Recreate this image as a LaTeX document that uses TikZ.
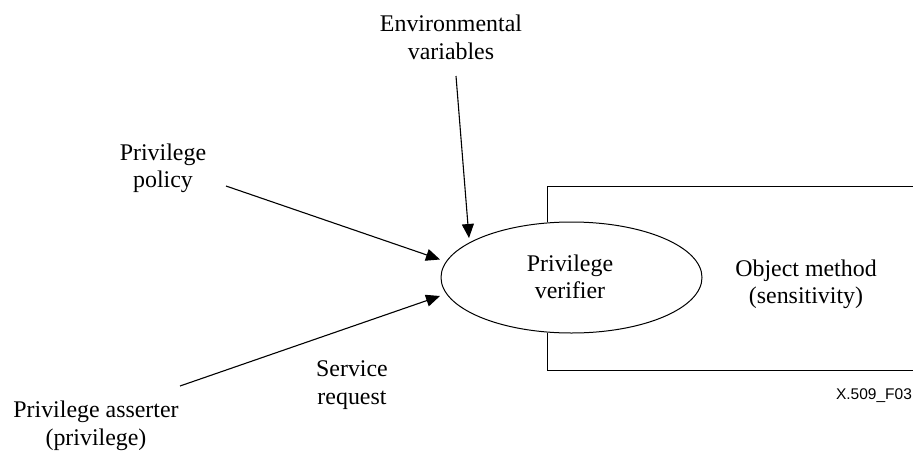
\documentclass[tikz,border=0pt]{standalone}
\usepackage{fontspec}
\setmainfont{Liberation Serif}
\newfontfamily\helv{Liberation Sans}
\usetikzlibrary{arrows.meta,shapes.geometric}
\tikzset{lbl/.style={inner sep=0pt,align=center,anchor=base,font=\fontsize{23.9}{27.2}\selectfont},
 conn/.style={draw=black,line width=1.1pt,-{Stealth[length=14pt,width=12pt,inset=0pt]}},
 edge line/.style={draw=black,line width=1pt}}
\begin{document}
\begin{tikzpicture}[x=1pt,y=-1pt]
\useasboundingbox (0,0) rectangle (913,450);
\coordinate (tl) at (913,186);
\coordinate (tm) at (547,186);
\coordinate (tb) at (547,222);
\coordinate (bl) at (913,370);
\coordinate (bm) at (547,370);
\coordinate (bt) at (547,333);
\draw[edge line] (tl) -- (tm) -- (tb);
\draw[edge line] (bl) -- (bm) -- (bt);
\node[draw=black,line width=1pt,ellipse,minimum width=261pt,minimum height=111pt,inner sep=0pt] (ver) at (571.5,277.5) {};
\node[lbl] (vert) at (570,298.5) {Privilege\\verifier};
\node[lbl] (obj) at (806,303.5) {Object method\\(sensitivity)};
\node[lbl] (env) at (451,59) {Environmental\\variables};
\node[lbl] (pol) at (163,187.5) {Privilege\\policy};
\node[lbl] (ass) at (96,445) {Privilege asserter\\(privilege)};
\node[lbl] (srv) at (352,404) {Service\\request};
\node[inner sep=0pt,anchor=base,font=\helv\fontsize{15.5}{18}\selectfont] (fig) at (874,399) {X.509\_F03};
\coordinate (e0) at (456,76);
\coordinate (e1) at (469,238);
\coordinate (p0) at (226,186);
\coordinate (p1) at (440,259.5);
\coordinate (a0) at (180,386);
\coordinate (a1) at (440,296);
\draw[conn] (e0) -- (e1);
\draw[conn] (p0) -- (p1);
\draw[conn] (a0) -- (a1);
\end{tikzpicture}
\end{document}
